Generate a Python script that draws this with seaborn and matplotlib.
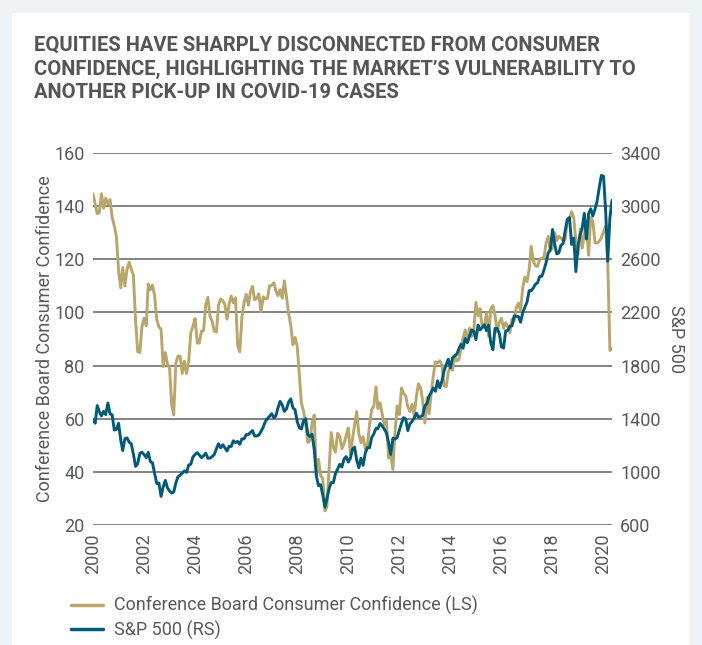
import numpy as np
import pandas as pd
import matplotlib
matplotlib.use("Agg")
import matplotlib.pyplot as plt
import seaborn as sns
from matplotlib.patches import Rectangle
from matplotlib.lines import Line2D

# ---------------- data (monthly, Jan 2000 - May 2020) ----------------
start_month = "2000-01-01"

confidence = [
    144.7, 140.8, 137.1, 137.7, 144.7, 139.2, 143.0, 140.8, 142.5, 135.8, 132.6, 128.6,  # 2000
    115.7, 109.2, 116.9, 109.9, 116.1, 118.9, 116.3, 114.0, 97.0, 85.3, 84.9, 94.6,      # 2001
    97.8, 95.0, 110.7, 108.5, 110.3, 106.3, 97.4, 94.5, 93.7, 79.6, 84.9, 80.7,          # 2002
    78.8, 64.8, 61.4, 81.0, 83.6, 83.5, 77.0, 81.7, 77.0, 81.7, 92.5, 94.8,              # 2003
    97.7, 88.5, 88.5, 93.0, 93.1, 102.8, 105.7, 98.7, 96.7, 92.9, 92.6, 102.7,           # 2004
    105.1, 104.4, 103.0, 97.5, 103.1, 106.2, 103.6, 105.5, 87.5, 85.2, 98.3, 103.8,      # 2005
    106.8, 102.7, 107.5, 109.8, 104.7, 105.4, 107.0, 100.2, 105.9, 105.1, 105.3, 110.0,  # 2006
    110.2, 111.2, 108.2, 106.3, 108.5, 105.3, 111.9, 105.6, 99.5, 95.2, 87.8, 90.6,      # 2007
    87.3, 76.4, 65.9, 62.8, 58.1, 51.0, 51.9, 58.5, 61.4, 38.8, 44.7, 38.6,              # 2008
    37.4, 25.3, 26.9, 40.8, 54.8, 49.3, 47.4, 54.5, 53.4, 48.7, 50.6, 53.6,              # 2009
    56.5, 46.4, 52.3, 57.7, 62.7, 54.3, 51.0, 53.2, 48.6, 49.9, 57.8, 63.4,              # 2010
    64.8, 72.0, 63.8, 66.0, 61.7, 57.6, 59.2, 45.2, 46.4, 40.9, 55.2, 64.8,              # 2011
    61.5, 71.6, 69.5, 68.7, 64.4, 62.7, 65.4, 61.3, 68.4, 73.1, 71.5, 66.7,              # 2012
    58.4, 68.0, 61.9, 69.0, 76.2, 81.4, 81.0, 81.8, 80.2, 72.4, 72.0, 77.5,              # 2013
    79.4, 78.3, 83.9, 81.7, 82.2, 86.4, 90.3, 93.4, 89.0, 94.1, 91.0, 93.1,              # 2014
    103.8, 98.8, 101.4, 94.3, 94.6, 99.8, 91.0, 101.3, 102.6, 99.1, 92.6, 96.3,          # 2015
    97.8, 94.0, 96.1, 94.7, 92.4, 97.4, 96.7, 101.8, 103.5, 100.8, 109.4, 113.3,         # 2016
    111.6, 116.1, 124.9, 119.4, 117.6, 117.3, 120.0, 120.4, 120.6, 126.2, 128.6, 123.1,  # 2017
    124.3, 130.0, 127.0, 128.7, 128.0, 127.1, 127.4, 134.7, 135.3, 137.9, 135.7, 126.6,  # 2018
    121.7, 131.4, 124.2, 129.2, 134.1, 121.5, 135.7, 134.2, 126.3, 126.1, 126.8, 128.2,  # 2019
    130.4, 132.6, 118.8, 85.7, 86.6,                                                     # 2020
]

sp500 = [
    1394, 1366, 1499, 1452, 1421, 1455, 1431, 1518, 1437, 1429, 1315, 1320,  # 2000
    1366, 1240, 1160, 1249, 1256, 1224, 1211, 1134, 1041, 1060, 1139, 1148,  # 2001
    1130, 1107, 1147, 1077, 1067, 990, 912, 916, 815, 886, 936, 880,         # 2002
    856, 841, 848, 917, 964, 975, 990, 1008, 996, 1051, 1058, 1112,          # 2003
    1131, 1145, 1126, 1107, 1121, 1141, 1102, 1104, 1115, 1130, 1174, 1212,  # 2004
    1181, 1204, 1181, 1157, 1192, 1191, 1234, 1220, 1229, 1207, 1249, 1248,  # 2005
    1280, 1281, 1295, 1311, 1270, 1270, 1277, 1304, 1336, 1378, 1401, 1418,  # 2006
    1438, 1407, 1421, 1482, 1531, 1503, 1455, 1474, 1527, 1549, 1481, 1468,  # 2007
    1379, 1331, 1323, 1386, 1400, 1280, 1267, 1283, 1165, 969, 896, 903,     # 2008
    826, 735, 798, 873, 919, 919, 987, 1021, 1057, 1036, 1096, 1115,         # 2009
    1074, 1104, 1169, 1187, 1089, 1031, 1102, 1049, 1141, 1183, 1181, 1258,  # 2010
    1286, 1327, 1326, 1364, 1345, 1321, 1292, 1219, 1131, 1253, 1247, 1258,  # 2011
    1312, 1366, 1408, 1398, 1310, 1362, 1379, 1407, 1441, 1412, 1416, 1426,  # 2012
    1498, 1515, 1569, 1598, 1631, 1606, 1686, 1633, 1682, 1757, 1806, 1848,  # 2013
    1783, 1859, 1872, 1884, 1924, 1960, 1931, 2003, 1972, 2018, 2068, 2059,  # 2014
    1995, 2105, 2068, 2086, 2107, 2063, 2104, 1972, 1920, 2079, 2080, 2044,  # 2015
    1940, 1932, 2060, 2065, 2097, 2099, 2174, 2171, 2168, 2126, 2199, 2239,  # 2016
    2279, 2364, 2363, 2384, 2412, 2423, 2470, 2472, 2519, 2575, 2648, 2674,  # 2017
    2824, 2714, 2641, 2648, 2705, 2718, 2816, 2902, 2914, 2712, 2760, 2507,  # 2018
    2704, 2784, 2834, 2946, 2752, 2942, 2980, 2926, 2977, 3038, 3141, 3231,  # 2019
    3226, 2954, 2585, 2912, 3044,                                            # 2020
]

left_ticks = [20, 40, 60, 80, 100, 120, 140, 160]
right_ticks = [600, 1000, 1400, 1800, 2200, 2600, 3000, 3400]
year_ticks = list(range(2000, 2021, 2))

title = ("EQUITIES HAVE SHARPLY DISCONNECTED FROM CONSUMER\n"
         "CONFIDENCE, HIGHLIGHTING THE MARKET\u2019S VULNERABILITY TO\n"
         "ANOTHER PICK-UP IN COVID-19 CASES")
label_conf = "Conference Board Consumer Confidence (LS)"
label_sp = "S&P 500 (RS)"
left_axis_label = "Conference Board Consumer Confidence"
right_axis_label = "S&P 500"

# ---------------- style ----------------
GOLD = "#b9a66b"
BLUE = "#005a78"
TEXT = "#58595b"
GRID = "#7a7a7a"

sns.set_theme(style="white")
plt.rcParams["font.family"] = ["Roboto", "DejaVu Sans"]

dates = pd.date_range(start_month, periods=len(confidence), freq="MS")
df = pd.DataFrame({"date": dates, "conf": confidence, "sp": sp500})

W, H = 702, 645
fig = plt.figure(figsize=(W / 100, H / 100), dpi=100)
fig.patch.set_facecolor("#eef3f7")
fig.patches.append(Rectangle((12 / W, 0), (690 - 12) / W, 1 - 13 / H,
                             transform=fig.transFigure, facecolor="white",
                             edgecolor="none", zorder=-10))

ax = fig.add_axes([93 / W, 1 - 525 / H, (612 - 93) / W, (525 - 153) / H])
ax.set_facecolor("none")
ax2 = ax.twinx()

sns.lineplot(data=df, x="date", y="conf", ax=ax, color=GOLD, lw=2.1, zorder=3)
sns.lineplot(data=df, x="date", y="sp", ax=ax2, color=BLUE, lw=2.1, zorder=3)

ax.set_ylim(20, 160)
ax2.set_ylim(600, 3400)
ax.set_yticks(left_ticks)
ax2.set_yticks(right_ticks)
ax.set_xlim(dates[0], dates[-1])
ax.set_xticks([pd.Timestamp(f"{y}-01-01") for y in year_ticks])
ax.set_xticklabels([str(y) for y in year_ticks], rotation=90)

ax.grid(axis="y", color=GRID, lw=1.3, zorder=0)
ax.set_axisbelow(True)
for a in (ax, ax2):
    for s in a.spines.values():
        s.set_visible(False)
    a.tick_params(length=0, labelsize=13, colors=TEXT)
    a.set_xlabel("")
ax.tick_params(axis="y", pad=6)
ax2.tick_params(axis="y", pad=6)
ax.tick_params(axis="x", pad=6)

ax.set_ylabel(left_axis_label, fontsize=13, color=TEXT, va="center")
ax.yaxis.set_label_coords((45 - 93) / (612 - 93), 0.5)
ax2.set_ylabel(right_axis_label, fontsize=13, color=TEXT, rotation=270,
               va="center")
ax2.yaxis.set_label_coords((676 - 93) / (612 - 93), 0.5)

# title
fig.text(34 / W, 1 - 36 / H, title, ha="left", va="top", fontsize=14.5,
         fontweight="bold", color="#555555", linespacing=1.3,
         family=["Liberation Sans Narrow", "Roboto", "DejaVu Sans"])

# legend
handles = [Line2D([], [], color=GOLD, lw=2.5), Line2D([], [], color=BLUE, lw=2.5)]
leg = fig.legend(handles, [label_conf, label_sp], loc="upper left",
                 bbox_to_anchor=(64 / W, 1 - 589 / H), frameon=False,
                 fontsize=13, handlelength=1.75, handletextpad=0.6,
                 labelspacing=0.3, borderaxespad=0)
for t in leg.get_texts():
    t.set_color(TEXT)

fig.savefig("out.png", dpi=100)
